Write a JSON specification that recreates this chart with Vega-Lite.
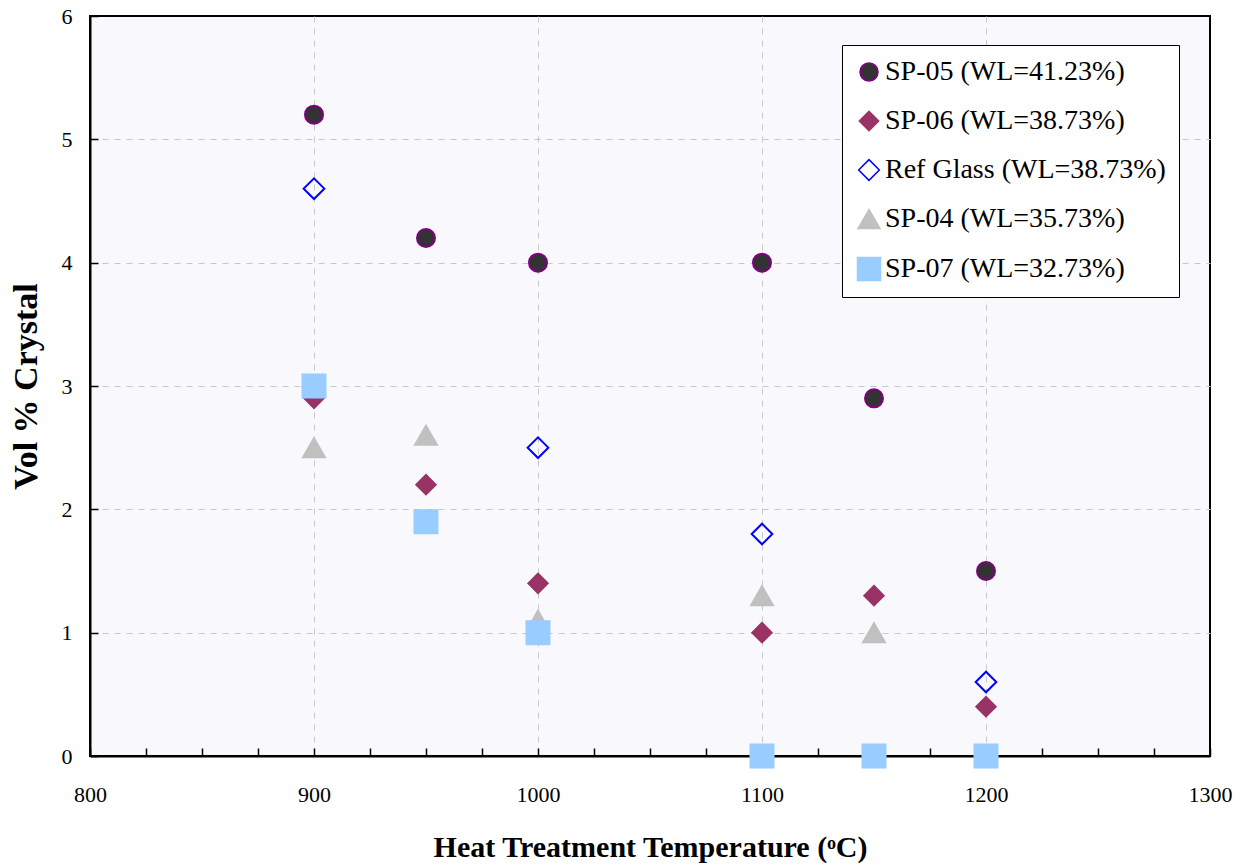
{
  "$schema": "https://vega.github.io/schema/vega-lite/v6.json",
  "width": 1120,
  "height": 740,
  "autosize": "none",
  "padding": {"left": 90, "top": 16, "right": 37, "bottom": 111},
  "background": "white",
  "config": {
    "font": "Liberation Serif",
    "view": {"fill": "#F8F8FD", "stroke": "black", "strokeWidth": 2},
    "legend": {
      "labelFont": "Liberation Serif",
      "titleFont": "Liberation Serif"
    },
    "axis": {"labelFont": "Liberation Serif", "titleFont": "Liberation Serif"}
  },
  "data": {
    "values": [
      {"series": "SP-05 (WL=41.23%)", "temp": 900, "vol": 5.2},
      {"series": "SP-05 (WL=41.23%)", "temp": 950, "vol": 4.2},
      {"series": "SP-05 (WL=41.23%)", "temp": 1000, "vol": 4.0},
      {"series": "SP-05 (WL=41.23%)", "temp": 1100, "vol": 4.0},
      {"series": "SP-05 (WL=41.23%)", "temp": 1150, "vol": 2.9},
      {"series": "SP-05 (WL=41.23%)", "temp": 1200, "vol": 1.5},
      {"series": "SP-06 (WL=38.73%)", "temp": 900, "vol": 2.9},
      {"series": "SP-06 (WL=38.73%)", "temp": 950, "vol": 2.2},
      {"series": "SP-06 (WL=38.73%)", "temp": 1000, "vol": 1.4},
      {"series": "SP-06 (WL=38.73%)", "temp": 1100, "vol": 1.0},
      {"series": "SP-06 (WL=38.73%)", "temp": 1150, "vol": 1.3},
      {"series": "SP-06 (WL=38.73%)", "temp": 1200, "vol": 0.4},
      {"series": "Ref Glass (WL=38.73%)", "temp": 900, "vol": 4.6},
      {"series": "Ref Glass (WL=38.73%)", "temp": 1000, "vol": 2.5},
      {"series": "Ref Glass (WL=38.73%)", "temp": 1100, "vol": 1.8},
      {"series": "Ref Glass (WL=38.73%)", "temp": 1200, "vol": 0.6},
      {"series": "SP-04 (WL=35.73%)", "temp": 900, "vol": 2.5},
      {"series": "SP-04 (WL=35.73%)", "temp": 950, "vol": 2.6},
      {"series": "SP-04 (WL=35.73%)", "temp": 1000, "vol": 1.1},
      {"series": "SP-04 (WL=35.73%)", "temp": 1100, "vol": 1.3},
      {"series": "SP-04 (WL=35.73%)", "temp": 1150, "vol": 1.0},
      {"series": "SP-04 (WL=35.73%)", "temp": 1200, "vol": 0.0},
      {"series": "SP-07 (WL=32.73%)", "temp": 900, "vol": 3.0},
      {"series": "SP-07 (WL=32.73%)", "temp": 950, "vol": 1.9},
      {"series": "SP-07 (WL=32.73%)", "temp": 1000, "vol": 1.0},
      {"series": "SP-07 (WL=32.73%)", "temp": 1100, "vol": 0.0},
      {"series": "SP-07 (WL=32.73%)", "temp": 1150, "vol": 0.0},
      {"series": "SP-07 (WL=32.73%)", "temp": 1200, "vol": 0.0}
    ]
  },
  "mark": {"type": "point", "opacity": 1, "clip": false, "strokeWidth": 2},
  "encoding": {
    "x": {
      "field": "temp",
      "type": "quantitative",
      "scale": {"domain": [800, 1300], "nice": false, "zero": false},
      "axis": {
        "title": "Heat Treatment Temperature (ᵒC)",
        "titleFont": "Liberation Serif",
        "titleFontSize": 30,
        "titleFontWeight": "bold",
        "titleColor": "black",
        "titlePadding": 27,
        "values": [800, 825, 850, 875, 900, 925, 950, 975, 1000, 1025, 1050, 1075, 1100, 1125, 1150, 1175, 1200, 1225, 1250, 1275, 1300],
        "format": "d",
        "labelExpr": "datum.value % 100 === 0 ? datum.label : ''",
        "labelFont": "Liberation Serif",
        "labelFontSize": 22,
        "labelColor": "black",
        "labelPadding": 36,
        "labelFlush": false,
        "labelOverlap": false,
        "domainColor": "black",
        "domainWidth": 2,
        "tickColor": "black",
        "tickSize": -8,
        "tickWidth": 1.5,
        "grid": true,
        "gridColor": "#C8C8C8",
        "gridDash": [6, 6],
        "gridWidth": 1,
        "gridOpacity": {"condition": {"test": "datum.value % 100 === 0 && datum.value > 800 && datum.value < 1300", "value": 1}, "value": 0}
      }
    },
    "y": {
      "field": "vol",
      "type": "quantitative",
      "scale": {"domain": [0, 6], "nice": false},
      "axis": {
        "title": "Vol % Crystal",
        "titleFont": "Liberation Serif",
        "titleFontSize": 34,
        "titleFontWeight": "bold",
        "titleColor": "black",
        "titlePadding": 18,
        "values": [0, 1, 2, 3, 4, 5, 6],
        "format": "d",
        "labelFont": "Liberation Serif",
        "labelFontSize": 22,
        "labelColor": "black",
        "labelPadding": 26,
        "labelFlush": false,
        "domainColor": "black",
        "domainWidth": 2,
        "tickColor": "black",
        "tickSize": -8,
        "tickWidth": 1.5,
        "grid": true,
        "gridColor": "#C8C8C8",
        "gridDash": [6, 6],
        "gridWidth": 1,
        "gridOpacity": {"condition": {"test": "datum.value > 0 && datum.value < 6", "value": 1}, "value": 0}
      }
    },
    "shape": {
      "field": "series",
      "type": "nominal",
      "sort": null,
      "scale": {
        "domain": ["SP-05 (WL=41.23%)", "SP-06 (WL=38.73%)", "Ref Glass (WL=38.73%)", "SP-04 (WL=35.73%)", "SP-07 (WL=32.73%)"],
        "range": ["circle", "diamond", "diamond", "triangle-up", "square"]
      },
      "legend": {
        "title": null,
        "orient": "none",
        "legendX": 752,
        "legendY": 29,
        "fillColor": "white",
        "strokeColor": "black",
        "padding": 13,
        "labelFont": "Liberation Serif",
        "labelFontSize": 28,
        "labelColor": "black",
        "labelOffset": 2,
        "rowPadding": 21,
        "labelLimit": 400,
        "encode": {"symbols": {"update": {"size": {"value": 300}}}}
      }
    },
    "fill": {
      "field": "series",
      "type": "nominal",
      "sort": null,
      "scale": {
        "domain": ["SP-05 (WL=41.23%)", "SP-06 (WL=38.73%)", "Ref Glass (WL=38.73%)", "SP-04 (WL=35.73%)", "SP-07 (WL=32.73%)"],
        "range": ["#333333", "#993366", "transparent", "#C0C0C0", "#99CCFF"]
      },
      "legend": {
        "title": null,
        "orient": "none",
        "legendX": 752,
        "legendY": 29,
        "fillColor": "white",
        "strokeColor": "black",
        "padding": 13,
        "labelFont": "Liberation Serif",
        "labelFontSize": 28,
        "labelColor": "black",
        "labelOffset": 2,
        "rowPadding": 21,
        "labelLimit": 400,
        "encode": {"symbols": {"update": {"size": {"value": 300}}}}
      }
    },
    "stroke": {
      "field": "series",
      "type": "nominal",
      "sort": null,
      "scale": {
        "domain": ["SP-05 (WL=41.23%)", "SP-06 (WL=38.73%)", "Ref Glass (WL=38.73%)", "SP-04 (WL=35.73%)", "SP-07 (WL=32.73%)"],
        "range": ["#800080", "#993366", "#0000FF", "#C0C0C0", "#99CCFF"]
      },
      "legend": {
        "title": null,
        "orient": "none",
        "legendX": 752,
        "legendY": 29,
        "fillColor": "white",
        "strokeColor": "black",
        "padding": 13,
        "labelFont": "Liberation Serif",
        "labelFontSize": 28,
        "labelColor": "black",
        "labelOffset": 2,
        "rowPadding": 21,
        "labelLimit": 400,
        "encode": {"symbols": {"update": {"size": {"value": 300}}}}
      }
    },
    "size": {
      "field": "series",
      "type": "nominal",
      "sort": null,
      "scale": {
        "domain": ["SP-05 (WL=41.23%)", "SP-06 (WL=38.73%)", "Ref Glass (WL=38.73%)", "SP-04 (WL=35.73%)", "SP-07 (WL=32.73%)"],
        "range": [324, 529, 676, 576, 576]
      },
      "legend": {
        "title": null,
        "orient": "none",
        "legendX": 752,
        "legendY": 29,
        "fillColor": "white",
        "strokeColor": "black",
        "padding": 13,
        "labelFont": "Liberation Serif",
        "labelFontSize": 28,
        "labelColor": "black",
        "labelOffset": 2,
        "rowPadding": 21,
        "labelLimit": 400,
        "encode": {"symbols": {"update": {"size": {"value": 300}}}}
      }
    }
  }
}
